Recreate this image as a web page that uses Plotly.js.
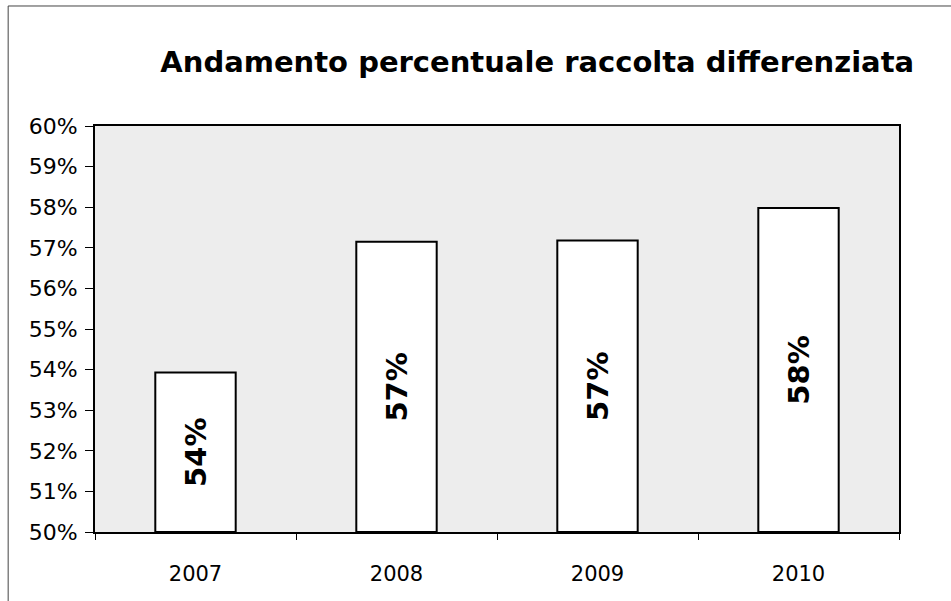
<!DOCTYPE html>
<html>
<head>
<meta charset="utf-8">
<script src="https://cdn.plot.ly/plotly-3.0.1.min.js"></script>
<style>html,body{margin:0;padding:0;background:#fff;}#chart{width:951px;height:601px;}</style>
</head>
<body>
<div id="chart"></div>
<script>
const years = ['2007', '2008', '2009', '2010'];
const percentValues = [53.93, 57.15, 57.18, 57.98];
const yTickValues = [50, 51, 52, 53, 54, 55, 56, 57, 58, 59, 60];
const axisBase = 50;

const trace = {
  type: 'bar',
  x: years,
  y: percentValues.map(v => v - axisBase),
  base: axisBase,
  customdata: percentValues,
  width: 0.4,
  marker: {color: '#ffffff', line: {color: '#000000', width: 2}},
  texttemplate: '%{customdata:.0f}%',
  textposition: 'inside',
  insidetextanchor: 'middle',
  textangle: -90,
  textfont: {family: 'DejaVu Sans', size: 29, color: '#000000', weight: 'bold'},
  constraintext: 'none',
  hoverinfo: 'skip'
};

const layout = {
  width: 951, height: 601,
  margin: {l: 95, r: 52, t: 126, b: 69},
  paper_bgcolor: '#ffffff',
  plot_bgcolor: '#ededed',
  showlegend: false,
  title: {
    text: '<b>Andamento percentuale raccolta differenziata</b>',
    font: {family: 'DejaVu Sans', size: 29, color: '#000000'},
    x: 0.55, xanchor: 'center', xref: 'paper',
    y: 0.897, yanchor: 'middle'
  },
  xaxis: {
    type: 'category',
    showline: true, linecolor: '#000000', linewidth: 2, mirror: true,
    ticks: 'outside', tickson: 'boundaries', ticklen: 6, tickcolor: '#000000',
    ticklabelstandoff: 22,
    tickfont: {family: 'DejaVu Sans', size: 21, color: '#000000'},
    showgrid: false, zeroline: false
  },
  yaxis: {
    range: [50, 60],
    tickvals: yTickValues,
    ticktext: yTickValues.map(v => v + '%'),
    showline: true, linecolor: '#000000', linewidth: 2, mirror: true,
    ticks: 'outside', ticklen: 8, tickcolor: '#000000',
    ticklabelstandoff: 3,
    tickfont: {family: 'DejaVu Sans', size: 22, color: '#000000'},
    showgrid: false, zeroline: false
  },
  shapes: [
    {type: 'line', xref: 'paper', yref: 'paper', x0: -0.108, x1: -0.108, y0: -0.17, y1: 1.2956, line: {color: '#444', width: 1}},
    {type: 'line', xref: 'paper', yref: 'paper', x0: -0.108, x1: 1.065, y0: 1.2956, y1: 1.2956, line: {color: '#444', width: 1}}
  ]
};

Plotly.newPlot('chart', [trace], layout, {displayModeBar: false, staticPlot: true});
</script>
</body>
</html>
